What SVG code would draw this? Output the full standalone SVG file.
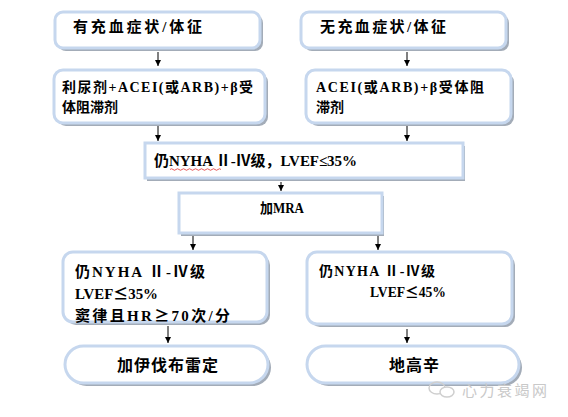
<svg xmlns="http://www.w3.org/2000/svg" width="568" height="417" viewBox="0 0 568 417">
<style>
.sh{fill:#a3acb8;stroke:none}
.bx{fill:#ffffff;stroke:#c6d7ee;stroke-width:3}
.t{font-family:"Liberation Serif","Noto Sans CJK SC",serif;font-weight:bold;font-size:15px;fill:#000}
.s14{font-size:14px}
.s16{font-size:16px}
.cj{font-family:"Noto Sans CJK JP","Noto Sans CJK SC",sans-serif}
.ln{stroke:#000;stroke-width:1;fill:none}
.wm{font-family:"Noto Sans CJK SC",sans-serif;font-size:15px;fill:#c9c9c9}
</style>
<defs>
<marker id="ah" viewBox="0 0 6 6" refX="6" refY="3" markerWidth="6" markerHeight="6" markerUnits="userSpaceOnUse" orient="auto">
<path d="M0,0 L6,3 L0,6 Z" fill="#000"/>
</marker>
</defs>
<rect width="568" height="417" fill="#fff"/>

<g id="connectors">
<line class="ln" x1="158" y1="52" x2="158" y2="66" marker-end="url(#ah)"/>
<line class="ln" x1="407" y1="52" x2="407" y2="66" marker-end="url(#ah)"/>
<line class="ln" x1="158" y1="126" x2="158" y2="141" marker-end="url(#ah)"/>
<line class="ln" x1="407" y1="126" x2="407" y2="141" marker-end="url(#ah)"/>
<line class="ln" x1="281" y1="182" x2="281" y2="191" marker-end="url(#ah)"/>
<line class="ln" x1="193" y1="236" x2="193" y2="250" marker-end="url(#ah)"/>
<line class="ln" x1="378" y1="236" x2="378" y2="250" marker-end="url(#ah)"/>
<line class="ln" x1="168" y1="326" x2="168" y2="343" marker-end="url(#ah)"/>
<line class="ln" x1="407" y1="329" x2="407" y2="343" marker-end="url(#ah)"/>
</g>

<g id="n1">
<rect class="sh" x="58" y="15" width="205" height="36" rx="8"/>
<rect class="bx" x="55" y="12" width="205" height="36" rx="8"/>
<text class="t" x="73" y="32" textLength="129" lengthAdjust="spacing">有充血症状/体征</text>
</g>

<g id="n2">
<rect class="sh" x="304" y="15" width="205" height="36" rx="8"/>
<rect class="bx" x="301" y="12" width="205" height="36" rx="8"/>
<text class="t" x="320" y="32" textLength="126" lengthAdjust="spacing">无充血症状/体征</text>
</g>

<g id="n3">
<rect class="sh" x="57" y="73" width="211" height="53" rx="9"/>
<rect class="bx" x="54" y="70" width="211" height="53" rx="9"/>
<text class="t s14" x="62" y="92" textLength="191" lengthAdjust="spacing">利尿剂+ACEI(或ARB)+β受</text>
<text class="t s14" x="62" y="112">体阻滞剂</text>
</g>

<g id="n4">
<rect class="sh" x="309" y="73" width="205" height="53" rx="9"/>
<rect class="bx" x="306" y="70" width="205" height="53" rx="9"/>
<text class="t s14" x="316" y="92" textLength="168" lengthAdjust="spacing">ACEI(或ARB)+β受体阻</text>
<text class="t s14" x="316" y="112">滞剂</text>
</g>

<g id="n5">
<rect class="sh" x="147" y="146" width="318" height="35"/>
<rect class="bx" x="145" y="143" width="318" height="35"/>
<text class="t" x="154" y="166" textLength="203" lengthAdjust="spacing">仍NYHA Ⅱ-Ⅳ级，LVEF≤35%</text>
<path d="M170,169.5 q1.5,-1.5 3,0 t3,0 t3,0 t3,0 t3,0 t3,0 t3,0 t3,0 t3,0 t3,0 t3,0 t3,0 t3,0 t3,0 t3,0 t3,0 t3,0" fill="none" stroke="#e03030" stroke-width="0.8"/>
</g>

<g id="n6">
<rect class="sh" x="181" y="196" width="203" height="40"/>
<rect class="bx" x="179" y="193" width="203" height="40"/>
<text class="t s14" x="260" y="213" textLength="44" lengthAdjust="spacingAndGlyphs">加MRA</text>
</g>

<g id="n7">
<rect class="sh" x="66" y="255" width="204" height="70" rx="10"/>
<rect class="bx" x="63" y="252" width="204" height="70" rx="10"/>
<text class="t" x="75" y="277" textLength="130" lengthAdjust="spacing">仍NYHA  Ⅱ-Ⅳ级</text>
<text class="t" x="75" y="299" textLength="83" lengthAdjust="spacingAndGlyphs">LVEF<tspan class="cj">≤</tspan>35%</text>
<text class="t" x="75" y="321" textLength="155" lengthAdjust="spacing">窦律且HR<tspan class="cj">≥</tspan>70次/分</text>
</g>

<g id="n8">
<rect class="sh" x="310" y="255" width="205" height="72" rx="10"/>
<rect class="bx" x="307" y="252" width="205" height="72" rx="10"/>
<text class="t s14" x="319" y="276" textLength="116" lengthAdjust="spacing">仍NYHA  Ⅱ-Ⅳ级</text>
<text class="t s14" x="370" y="297" textLength="76" lengthAdjust="spacingAndGlyphs">LVEF<tspan class="cj">≤</tspan>45%</text>
</g>

<g id="n9">
<rect class="sh" x="68" y="349" width="203" height="37" rx="18.5"/>
<rect class="bx" x="65" y="346" width="203" height="37" rx="18.5"/>
<text class="t s16" x="117" y="371" textLength="101" lengthAdjust="spacing">加伊伐布雷定</text>
</g>

<g id="n10">
<rect class="sh" x="310" y="349" width="212" height="37" rx="18.5"/>
<rect class="bx" x="307" y="346" width="212" height="37" rx="18.5"/>
<text class="t s16" x="389" y="371" textLength="50" lengthAdjust="spacing">地高辛</text>
</g>

<g id="watermark">
<ellipse cx="437" cy="388" rx="8" ry="6" fill="none" stroke="#cfcfcf" stroke-width="1.5"/>
<ellipse cx="447" cy="392" rx="7" ry="5" fill="#fff" stroke="#cfcfcf" stroke-width="1.5"/>
<text class="wm" x="462" y="396" textLength="85" lengthAdjust="spacing">心力衰竭网</text>
</g>
</svg>
